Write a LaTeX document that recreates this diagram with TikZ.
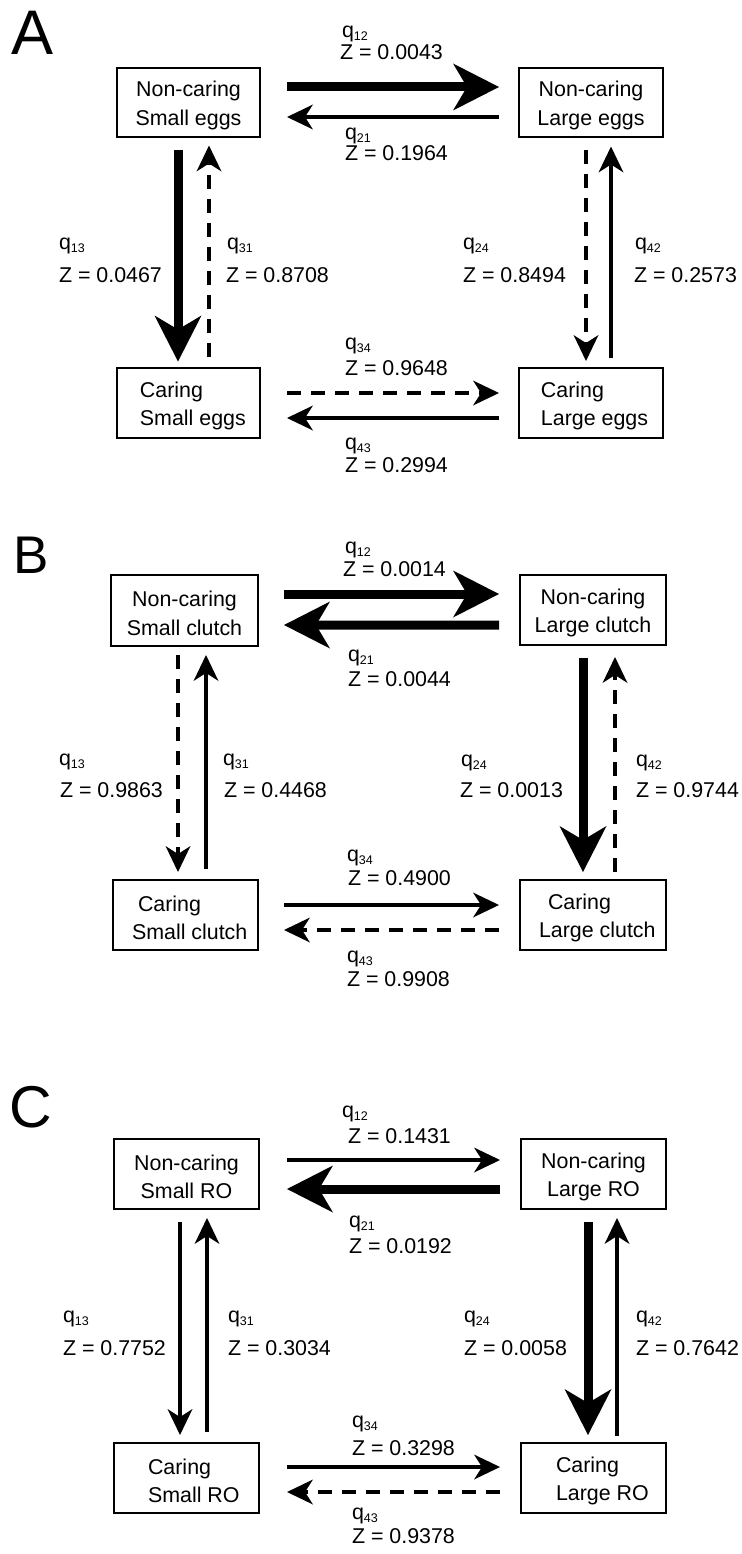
\documentclass[tikz,border=0pt]{standalone}
\usepackage{fontspec}
\setmainfont{Liberation Sans}
\usetikzlibrary{arrows.meta,calc}
\newcommand\qsub[1]{\raisebox{-3bp}{\fontsize{12.5bp}{12.5bp}\selectfont #1}}
\newcommand\qlab[7]{%
  \node[lbl] (#1q) at (#2,#3) {q\qsub{#4}};
  \node[lbl] (#1z) at (#5,#6) {Z = #7};}
\begin{document}
\begin{tikzpicture}[x=1bp,y=-1bp,
  lbl/.style={anchor=base west, inner sep=0pt, outer sep=0pt, font=\fontsize{21.4bp}{25bp}\selectfont},
  state/.style={draw, line width=2.2bp, inner sep=0pt, outer sep=0pt, minimum width=144bp, minimum height=70bp, font=\fontsize{21.4bp}{28.5bp}\selectfont},
  thinarr/.style={line width=3.6bp, -{Stealth[length=26bp, width=25bp, inset=8bp, line width=0pt]}},
  thickarr/.style={line width=9bp, -{Stealth[length=46bp, width=47bp, inset=14bp, line width=0pt]}},
  dasharr/.style={thinarr, dash pattern=on 14bp off 10bp},
  panel/.style={anchor=base west, inner sep=0pt, outer sep=0pt}]
\useasboundingbox (0,0) rectangle (742,1554);

% ---------- Panel A ----------
\node[panel, font=\fontsize{63bp}{63bp}\selectfont] (pA) at (11,55) {A};
\node[state, align=center, minimum width=143bp, minimum height=69bp] (A1) at (188.5,102.5) {\rule{0pt}{21bp}Non-caring\\Small eggs};
\node[state, align=center, minimum height=69bp] (A2) at (591,102.5) {\rule{0pt}{21bp}Non-caring\\Large eggs};
\node[state, align=left, minimum width=143bp] (A3) at (188.5,403) {\rule{0pt}{21bp}\hspace*{8.8bp}Caring\\\hspace*{8.8bp}Small eggs};
\node[state, align=left] (A4) at (591,403) {\rule{0pt}{21bp}\hspace*{7bp}Caring\\\hspace*{7bp}Large eggs};
\draw[thickarr] ($(A1.east)+(27,-15.5)$) -- ($(A2.west)+(-20,-15.5)$);
\draw[thinarr] ($(A2.west)+(-20,14.5)$) -- ($(A1.east)+(27,14.5)$);
\draw[thickarr] ($(A1.south)+(-10.5,13)$) -- ($(A3.north)+(-10.5,-6.5)$);
\draw[dasharr] ($(A3.north)+(20.5,-11)$) -- ($(A1.south)+(20.5,8.5)$);
\draw[dasharr] ($(A2.south)+(-5,13)$) -- ($(A4.north)+(-5,-7)$);
\draw[thinarr] ($(A4.north)+(20,-10)$) -- ($(A2.south)+(20,9.5)$);
\draw[dasharr] ($(A3.east)+(27,-10)$) -- ($(A4.west)+(-20,-10)$);
\draw[thinarr] ($(A4.west)+(-20,15)$) -- ($(A3.east)+(27,15)$);
\qlab{a12}{342}{37.8}{12}{340}{60}{0.0043}
\qlab{a21}{345}{139.4}{21}{345}{160.5}{0.1964}
\qlab{a13}{59}{249.4}{13}{59}{282}{0.0467}
\qlab{a31}{227}{249.4}{31}{226}{282}{0.8708}
\qlab{a24}{463}{249.4}{24}{463}{282}{0.8494}
\qlab{a42}{635}{249.4}{42}{634}{282}{0.2573}
\qlab{a34}{345}{349.4}{34}{345}{375.3}{0.9648}
\qlab{a43}{345}{449.4}{43}{345}{472.7}{0.2994}

% ---------- Panel B ----------
\node[panel, font=\fontsize{53bp}{53bp}\selectfont] (pB) at (13,573) {B};
\node[state, align=center, minimum width=147bp, minimum height=71bp] (B1) at (184.5,610.5) {\rule{0pt}{21bp}Non-caring\\Small clutch};
\node[state, align=center, minimum width=146bp] (B2) at (593,610) {\rule{0pt}{21bp}Non-caring\\Large clutch};
\node[state, align=left, minimum width=145bp] (B3) at (185.5,915) {\rule{0pt}{21bp}\hspace*{14.4bp}Caring\\\hspace*{8.4bp}Small clutch};
\node[state, align=left, minimum width=146bp] (B4) at (593,915) {\rule{0pt}{21bp}\hspace*{17.6bp}Caring\\\hspace*{8.6bp}Large clutch};
\draw[thickarr] ($(B1.east)+(26,-16.5)$) -- ($(B2.west)+(-21,-16)$);
\draw[thickarr] ($(B2.west)+(-21,15)$) -- ($(B1.east)+(26,14.5)$);
\draw[dasharr] ($(B1.south)+(-6.5,9)$) -- ($(B3.north)+(-7.5,-8)$);
\draw[thinarr] ($(B3.north)+(20.5,-11)$) -- ($(B1.south)+(21.5,9)$);
\draw[thickarr] ($(B2.south)+(-10,13)$) -- ($(B4.north)+(-10,-8)$);
\draw[dasharr] ($(B4.north)+(22,-8)$) -- ($(B2.south)+(22,12)$);
\draw[thinarr] ($(B3.east)+(26,-10)$) -- ($(B4.west)+(-21,-10)$);
\draw[dasharr] ($(B4.west)+(-21,15)$) -- ($(B3.east)+(26,15)$);
\qlab{b12}{345}{553}{12}{343}{576}{0.0014}
\qlab{b21}{348}{661}{21}{348}{686.7}{0.0044}
\qlab{b13}{59}{765}{13}{60}{797}{0.9863}
\qlab{b31}{223}{765}{31}{224}{797}{0.4468}
\qlab{b24}{461}{766}{24}{460}{797}{0.0013}
\qlab{b42}{636}{766}{42}{636}{797}{0.9744}
\qlab{b34}{347}{861}{34}{348}{885}{0.4900}
\qlab{b43}{347}{962.8}{43}{347}{986.7}{0.9908}

% ---------- Panel C ----------
\node[panel, font=\fontsize{59bp}{59bp}\selectfont] (pC) at (9,1127) {C};
\node[state, align=center, minimum width=145bp] (C1) at (186.5,1174) {\rule{0pt}{21bp}Non-caring\\Small RO};
\node[state, align=center, minimum width=145bp] (C2) at (593.5,1174) {\rule{0pt}{21bp}Non-caring\\Large RO};
\node[state, align=left, minimum width=145bp] (C3) at (186.5,1478) {\rule{0pt}{21bp}\hspace*{14.6bp}Caring\\\hspace*{14.6bp}Small RO};
\node[state, align=left, minimum width=145bp] (C4) at (593.5,1478) {\rule{0pt}{21bp}\hspace*{17.8bp}Caring\\\hspace*{17.8bp}Large RO};
\draw[thinarr] ($(C1.east)+(28,-14)$) -- ($(C2.west)+(-21,-14)$);
\draw[thickarr] ($(C2.west)+(-21,15)$) -- ($(C1.east)+(28,15)$);
\draw[thinarr] ($(C1.south)+(-6.5,13)$) -- ($(C3.north)+(-6.5,-8)$);
\draw[thinarr] ($(C3.north)+(20.5,-11)$) -- ($(C1.south)+(20.5,9)$);
\draw[thickarr] ($(C2.south)+(-5.5,13)$) -- ($(C4.north)+(-5.5,-8)$);
\draw[thinarr] ($(C4.north)+(23.5,-7)$) -- ($(C2.south)+(23.5,9)$);
\draw[thinarr] ($(C3.east)+(28,-11)$) -- ($(C4.west)+(-21,-11)$);
\draw[dasharr] ($(C4.west)+(-21,14)$) -- ($(C3.east)+(28,14)$);
\qlab{c12}{342}{1117.8}{12}{348}{1143.6}{0.1431}
\qlab{c21}{349}{1227.8}{21}{349}{1253}{0.0192}
\qlab{c13}{63}{1322.8}{13}{63}{1355}{0.7752}
\qlab{c31}{228}{1322.8}{31}{228}{1355}{0.3034}
\qlab{c24}{464}{1322.8}{24}{464}{1355}{0.0058}
\qlab{c42}{636}{1322.8}{42}{636}{1355}{0.7642}
\qlab{c34}{352}{1427.8}{34}{352}{1455}{0.3298}
\qlab{c43}{352}{1519}{43}{352}{1543}{0.9378}
\end{tikzpicture}
\end{document}
